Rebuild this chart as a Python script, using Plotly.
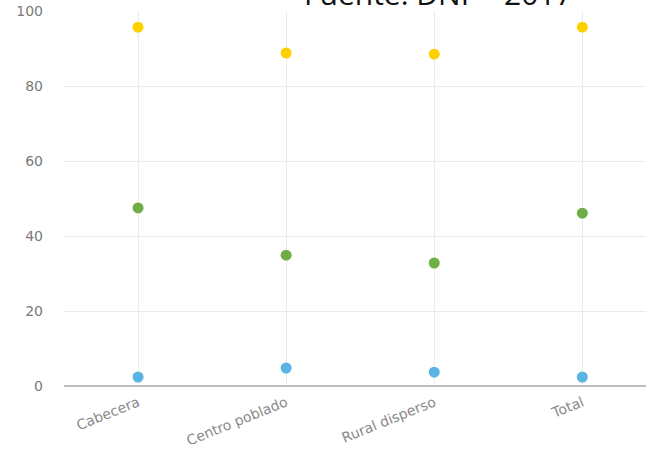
import plotly.graph_objects as go

categories = ["Cabecera", "Centro poblado", "Rural disperso", "Total"]
serie_amarilla = [95.7, 88.8, 88.5, 95.7]
serie_verde = [47.5, 34.9, 32.8, 46.1]
serie_azul = [2.4, 4.8, 3.7, 2.4]
y_ticks = [0, 20, 40, 60, 80, 100]

fig = go.Figure()
for vals, col in [(serie_amarilla, "#FFD000"), (serie_verde, "#6FAE45"), (serie_azul, "#58B4E2")]:
    fig.add_trace(go.Scatter(x=categories, y=vals, mode="markers",
                             marker=dict(color=col, size=11, line=dict(width=0)),
                             showlegend=False))

fig.update_layout(
    width=646, height=451,
    margin=dict(l=64, r=0, t=11, b=65),
    paper_bgcolor="white", plot_bgcolor="white",
    font=dict(family="DejaVu Sans", color="#7a7a7a", size=14),
    xaxis=dict(type="category", range=[-0.5, 3.43], showgrid=True, gridcolor="#ebebeb",
               tickangle=-22, tickfont=dict(size=14, color="#8a8a8a"), ticks="", showline=False,
               zeroline=False, ticklabelstandoff=5),
    yaxis=dict(range=[0, 100], tickvals=y_ticks, showgrid=True, gridcolor="#ebebeb",
               zeroline=True, zerolinecolor="#bdbdbd", zerolinewidth=2,
               tickfont=dict(size=14, color="#7a7a7a"), ticks="", ticklabelstandoff=20,
               showline=False),
    annotations=[dict(text="Fuente: DNP - 2017", xref="paper", yref="paper",
                      x=(438 - 64) / 582, y=1.0, xanchor="center", yanchor="bottom", yshift=-5,
                      showarrow=False, font=dict(size=30, color="#111111", family="Open Sans"))],
)
fig.write_html("out.html", config={"displayModeBar": False},
               post_script="document.body.style.margin='0px';")
